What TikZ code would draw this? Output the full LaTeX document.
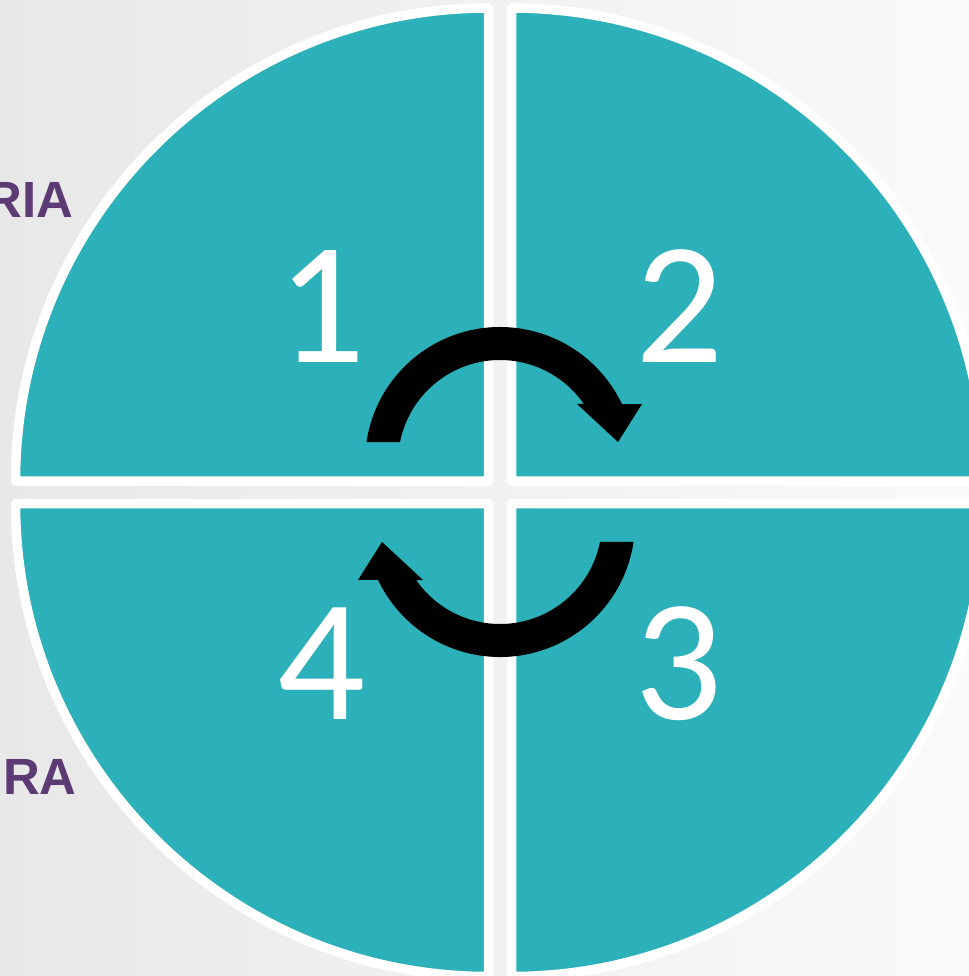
\documentclass[tikz,border=0pt]{standalone}
\usepackage{fontspec}
\setmainfont{Carlito}
\newfontfamily\tagfont{Liberation Sans}
\usetikzlibrary{positioning}
\definecolor{quadteal}{HTML}{2CB0B9}
\definecolor{tagpurple}{HTML}{5C3B74}

\begin{document}
\begin{tikzpicture}[x=0.02cm,y=0.02cm,
    sector/.style={fill=quadteal,draw=white,line width=0.19cm,line join=round},
    digit/.style={text=white,font=\fontsize{99}{99}\selectfont,inner sep=0pt,anchor=base},
    tag/.style={text=tagpurple,font=\tagfont\bfseries\fontsize{29}{29}\selectfont,
                inner sep=0pt,anchor=base east},
    turn/.style={fill=black}]
  \useasboundingbox (0,0) rectangle (969,-976);
  \shade[left color=gray!18,right color=gray!4] (0,0) rectangle (969,-976);

  % side labels
  \node[tag] (ria) at (74,-218) {RIA};
  \node[tag] (ra) at (77,-794) {RA};

  % the four quarters
  \draw[sector] (488.5,-481) -- (15.5,-481) arc[start angle=180,end angle=90,radius=473] -- cycle;
  \draw[sector] (511.5,-481) -- (511.5,-8) arc[start angle=90,end angle=0,radius=473] -- cycle;
  \draw[sector] (511.5,-503.5) -- (984.5,-503.5) arc[start angle=0,end angle=-90,radius=473] -- cycle;
  \draw[sector] (488.5,-503.5) -- (488.5,-976.5) arc[start angle=-90,end angle=-180,radius=473] -- cycle;

  \node[digit] (q1) at (322,-362) {1};
  \node[digit] (q2) at (680,-362) {2};
  \node[digit] (q3) at (679,-719) {3};
  \node[digit] (q4) at (322,-719) {4};

  % turning arrows
  \fill[turn] ([shift={(500,-462)}]171.5:135) arc[start angle=171.5,end angle=25.4,radius=135]
    -- (642,-404) -- (618,-442) -- (577,-404)
    -- ([shift={(500,-462)}]34.7:102) arc[start angle=34.7,end angle=168.7,radius=102] -- cycle;
  \begin{scope}[rotate around={180:(500,-492)}]
    \fill[turn] ([shift={(500,-462)}]171.5:135) arc[start angle=171.5,end angle=25.4,radius=135]
      -- (642,-404) -- (618,-442) -- (577,-404)
      -- ([shift={(500,-462)}]34.7:102) arc[start angle=34.7,end angle=168.7,radius=102] -- cycle;
  \end{scope}
\end{tikzpicture}
\end{document}
